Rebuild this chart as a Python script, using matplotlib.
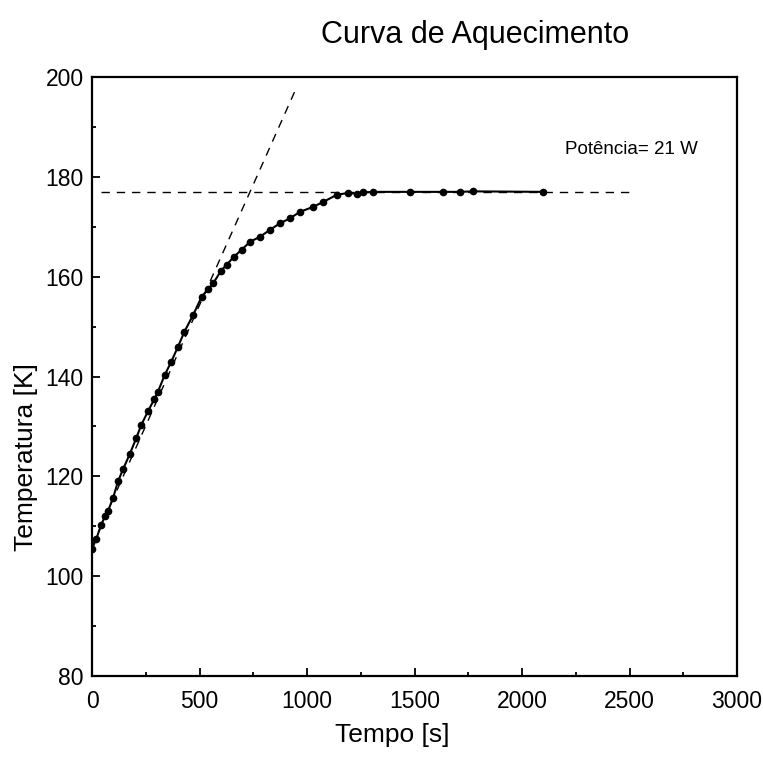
import matplotlib.pyplot as plt
from matplotlib.ticker import MultipleLocator

plt.rcParams["font.family"] = ["Liberation Sans", "DejaVu Sans"]

# heating curve
tempo = [0, 20, 43, 60, 74, 98, 121, 144, 175, 206, 229, 260, 290, 307, 338, 369,
         400, 430, 471, 510, 540, 564, 600, 626, 660, 696, 735, 781, 828, 874, 921,
         967, 1029, 1076, 1138, 1192, 1231, 1262, 1307, 1479, 1633, 1712, 1771, 2098]
temperatura = [105.5, 107.5, 110.3, 112.0, 113.0, 115.7, 119.0, 121.4, 124.4, 127.7,
               130.3, 133.0, 135.5, 137.0, 140.3, 143.0, 146.0, 149.0, 152.4, 156.0,
               157.5, 158.7, 161.2, 162.4, 164.0, 165.4, 167.0, 168.0, 169.4, 170.7,
               171.7, 173.0, 174.0, 175.0, 176.4, 176.8, 176.6, 176.9, 177.0, 177.0,
               177.0, 177.0, 177.1, 177.0]

# tangent at the start and the saturation level
tang_t = [0, 950]
tang_T = [106.0, 197.8]
sat_t = [40, 2500]
sat_T = [177.0, 177.0]

fig = plt.figure(figsize=(7.63, 7.63), dpi=100)
ax = fig.add_axes([0.1206, 0.114, 0.8454, 0.785])

ax.plot(tang_t, tang_T, "k--", lw=1.0, dashes=(6, 5))
ax.plot(sat_t, sat_T, "k--", lw=1.0, dashes=(6, 5))
ax.plot(tempo, temperatura, "k-", lw=1.5, marker="o", ms=4.5)

ax.text(2200, 185.4, "Potência= 21 W", fontsize=13.5, va="center", ha="left")

ax.set_xlim(0, 3000)
ax.set_ylim(80, 200)
ax.xaxis.set_major_locator(MultipleLocator(500))
ax.xaxis.set_minor_locator(MultipleLocator(250))
ax.yaxis.set_major_locator(MultipleLocator(20))
ax.yaxis.set_minor_locator(MultipleLocator(10))
ax.tick_params(which="both", direction="in", top=False, right=False, width=1.3)
ax.tick_params(which="major", length=6, labelsize=16.5)
ax.tick_params(axis="x", which="major", pad=10)
ax.tick_params(axis="y", which="major", pad=6)
ax.tick_params(which="minor", length=3)
for s in ax.spines.values():
    s.set_linewidth(1.6)

fig.text(0.622, 0.954, "Curva de Aquecimento", fontsize=22, ha="center", va="center")
fig.text(0.514, 0.037, "Tempo [s]", fontsize=19, ha="center", va="center")
fig.text(0.034, 0.401, "Temperatura [K]", fontsize=19, ha="center", va="center", rotation=90)

fig.savefig("out.png", dpi=100)
